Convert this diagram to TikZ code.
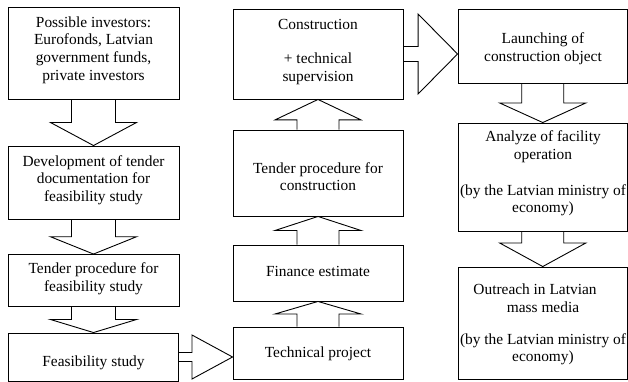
\documentclass[tikz,border=0pt]{standalone}
\usepackage{fontspec}
\setmainfont{Liberation Serif}
\usetikzlibrary{calc}

% Block arrow between two stacked boxes: from, to, shaft half width, head half width, head base fraction
\newcommand{\blkv}[5]{%
  \path (#1) coordinate (s) (#1 |- #2) coordinate (t) ($(s)!#5!(t)$) coordinate (b);
  \draw[blk] ($(s)+(-#3,0)$) -- ($(b)+(-#3,0)$) -- ($(b)+(-#4,0)$) -- (t)
    -- ($(b)+(#4,0)$) -- ($(b)+(#3,0)$) -- ($(s)+(#3,0)$);}
% Block arrow between two boxes side by side
\newcommand{\blkh}[5]{%
  \path (#1) coordinate (s) (#1 -| #2) coordinate (t) ($(s)!#5!(t)$) coordinate (b);
  \draw[blk] ($(s)+(0,-#3)$) -- ($(b)+(0,-#3)$) -- ($(b)+(0,-#4)$) -- (t)
    -- ($(b)+(0,#4)$) -- ($(b)+(0,#3)$) -- ($(s)+(0,#3)$);}

\begin{document}
\begin{tikzpicture}[x=1pt,y=-1pt,
  box/.style={draw=black,line width=0.9pt,inner sep=0pt},
  txt/.style={align=center,inner sep=0pt,font=\fontsize{15.4}{17.6}\selectfont},
  blk/.style={draw=black,line width=0.9pt,line join=miter}]
\useasboundingbox (0,0) rectangle (628,382);

% left column
\node[box,minimum width=171pt,minimum height=92pt] (inv) at (93.5,53) {};
\node[box,minimum width=171pt,minimum height=73pt] (dev) at (93.5,182.5) {};
\node[box,minimum width=171pt,minimum height=51.5pt] (tfs) at (93.5,280.25) {};
\node[box,minimum width=170pt,minimum height=48pt] (fs) at (93,357) {};
\node[txt] (invt) at (93.5,50) {Possible investors:\\Eurofonds, Latvian\\government funds,\\private investors};
\node[txt] (devt) at (93.5,180) {Development of tender\\documentation for\\feasibility study};
\node[txt] (tfst) at (93.5,278.5) {Tender procedure for\\feasibility study};
\node[txt] (fst) at (93.5,363) {Feasibility study};

% middle column
\node[box,minimum width=170pt,minimum height=90pt] (con) at (318,54) {};
\node[box,minimum width=170pt,minimum height=86pt] (tc) at (318,173) {};
\node[box,minimum width=170pt,minimum height=56pt] (fe) at (318,273) {};
\node[box,minimum width=170pt,minimum height=52pt] (tp) at (318,353) {};
\node[txt] (cont) at (318,52) {Construction\\[17pt]+ technical\\supervision};
\node[txt] (tct) at (318,176.5) {Tender procedure for\\construction};
\node[txt] (fet) at (318,271) {Finance estimate};
\node[txt] (tpt) at (318,354) {Technical project};

% right column
\node[box,minimum width=169.5pt,minimum height=74pt] (lau) at (542.75,46) {};
\node[box,minimum width=169.5pt,minimum height=108pt] (ana) at (542.75,177) {};
\node[box,minimum width=169.5pt,minimum height=112pt] (out) at (542.75,323) {};
\node[txt] (laut) at (543,49) {Launching of\\construction object};
\node[txt] (anat) at (543,173.5) {Analyze of facility\\operation\\[18pt](by the Latvian ministry of\\economy)};
\node[txt] (outt) at (543,324.5) {Outreach in Latvian\hspace*{16pt}\\mass media\\[14.5pt](by the Latvian ministry of\\economy)};

% arrows
\blkv{inv.south}{dev.north}{22}{43}{0.5}
\blkv{dev.south}{tfs.north}{22}{43}{0.5}
\blkv{tfs.south}{fs.north}{22}{43}{0.5}
\blkh{fs.east}{tp.west}{4.5}{22}{0.25}
\blkv{tp.north}{fe.south}{21}{43}{0.5}
\blkv{fe.north}{tc.south}{21}{43}{0.5}
\blkv{tc.north}{con.south}{21}{43}{0.32}
\blkh{con.east}{lau.west}{7.5}{40}{0.27}
\blkv{lau.south}{ana.north}{21}{43}{0.5}
\blkv{ana.south}{out.north}{21}{43}{0.33}
\end{tikzpicture}
\end{document}
